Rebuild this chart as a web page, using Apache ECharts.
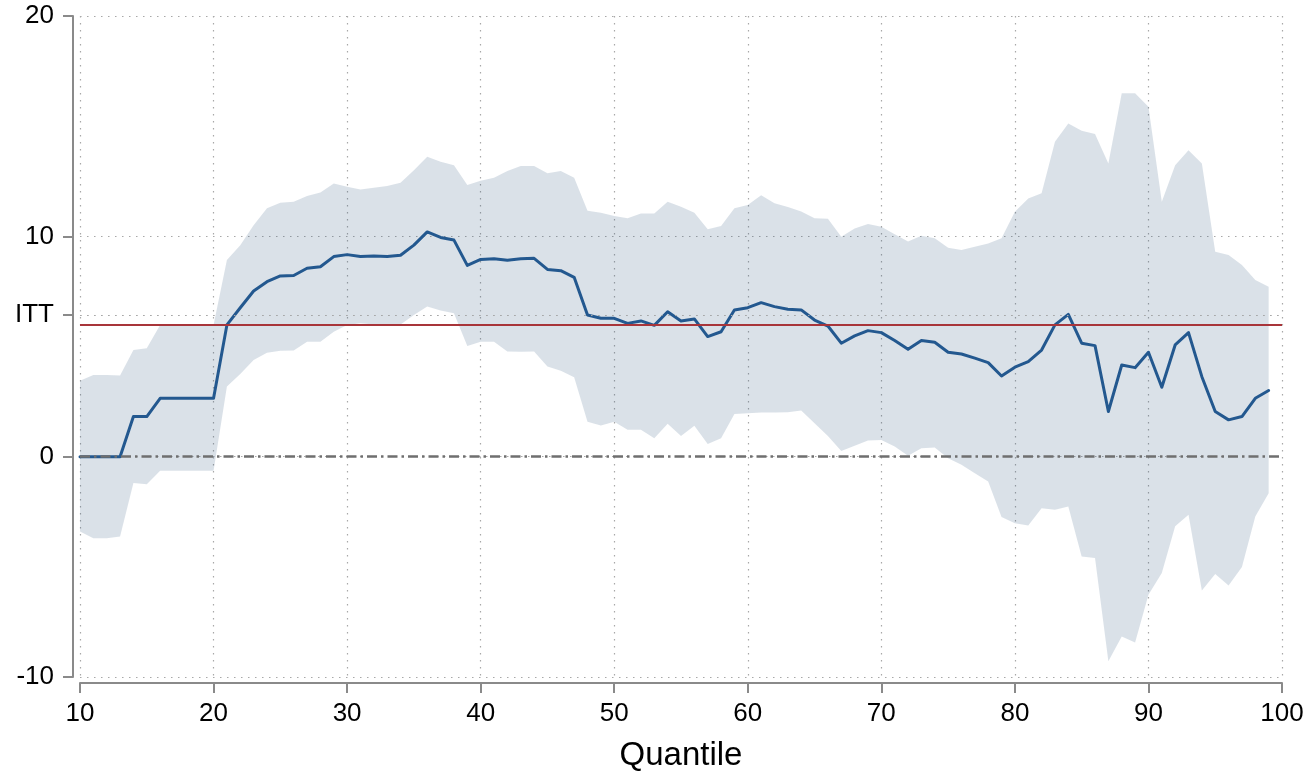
<!DOCTYPE html>
<html>
<head>
<meta charset="utf-8">
<script src="https://cdn.jsdelivr.net/npm/echarts@6/dist/echarts.min.js"></script>
<style>
  html, body { margin: 0; padding: 0; background: #fff; }
  #chart { width: 1308px; height: 774px; }
</style>
</head>
<body>
<div id="chart"></div>
<script>
const quantiles = [10,11,12,13,14,15,16,17,18,19,20,21,22,23,24,25,26,27,28,29,30,31,32,33,34,35,36,37,38,39,40,41,42,43,44,45,46,47,48,49,50,51,52,53,54,55,56,57,58,59,60,61,62,63,64,65,66,67,68,69,70,71,72,73,74,75,76,77,78,79,80,81,82,83,84,85,86,87,88,89,90,91,92,93,94,95,96,97,98,99];

const estimate = [0,0,0,0,1.82,1.82,2.65,2.65,2.65,2.65,2.65,5.98,6.76,7.52,7.94,8.2,8.22,8.55,8.62,9.08,9.17,9.08,9.11,9.08,9.14,9.6,10.2,9.95,9.83,8.68,8.95,8.98,8.91,8.98,9.0,8.5,8.44,8.14,6.43,6.28,6.28,6.05,6.16,5.96,6.58,6.16,6.25,5.45,5.67,6.66,6.76,6.99,6.81,6.69,6.66,6.2,5.93,5.15,5.48,5.72,5.63,5.27,4.87,5.27,5.19,4.74,4.66,4.47,4.27,3.66,4.06,4.31,4.84,5.98,6.46,5.15,5.04,2.05,4.16,4.04,4.74,3.15,5.07,5.63,3.63,2.05,1.67,1.82,2.65,3.0];

const upper = [3.45,3.71,3.71,3.68,4.84,4.92,5.98,5.98,5.98,5.98,5.98,8.93,9.6,10.5,11.27,11.52,11.57,11.83,11.99,12.4,12.25,12.13,12.2,12.28,12.43,13.0,13.61,13.38,13.23,12.33,12.52,12.66,12.97,13.19,13.19,12.86,12.96,12.66,11.16,11.07,10.92,10.82,11.04,11.04,11.57,11.34,11.07,10.32,10.47,11.27,11.42,11.87,11.5,11.33,11.13,10.82,10.8,9.98,10.36,10.56,10.44,10.1,9.76,10.03,9.91,9.48,9.38,9.53,9.68,9.91,11.12,11.72,11.95,14.29,15.12,14.79,14.64,13.31,16.49,16.49,15.88,11.57,13.23,13.91,13.31,9.3,9.15,8.7,8.02,7.71];

const lower = [-3.40,-3.70,-3.70,-3.62,-1.20,-1.25,-0.64,-0.64,-0.64,-0.64,-0.64,3.18,3.75,4.39,4.72,4.81,4.82,5.21,5.22,5.67,5.98,6.05,6.0,5.95,6.0,6.43,6.81,6.63,6.51,5.02,5.22,5.22,4.77,4.76,4.77,4.09,3.9,3.6,1.59,1.41,1.59,1.22,1.22,0.84,1.49,0.94,1.4,0.58,0.84,1.94,1.97,2.0,2.0,2.02,2.1,1.52,0.94,0.26,0.5,0.73,0.76,0.46,0.04,0.38,0.42,-0.07,-0.37,-0.75,-1.13,-2.74,-3.02,-3.12,-2.34,-2.41,-2.26,-4.53,-4.6,-9.29,-8.16,-8.43,-6.27,-5.28,-3.16,-2.64,-6.07,-5.32,-5.85,-5.01,-2.71,-1.66];

const ittValue = 6.0;       // red reference line
const ittTick = 6.43;       // position of the "ITT" tick label
const yTickValues = [-10, 0, ittTick, 10, 20];
const xTickLabels = [10,20,30,40,50,60,70,80,90,100];

const FONT = "'Liberation Sans', Arial, Helvetica, sans-serif";

const bandData = quantiles.map((q, i) => [q, lower[i], upper[i]]);
const estData = quantiles.map((q, i) => [q, estimate[i]]);

function renderBand(params, api) {
  if (params.dataIndex !== 0) return null;
  const top = [], bottom = [];
  for (let i = 0; i < bandData.length; i++) {
    top.push(api.coord([bandData[i][0], bandData[i][2]]));
    bottom.push(api.coord([bandData[i][0], bandData[i][1]]));
  }
  const pts = top.concat(bottom.reverse());
  return {
    type: 'polygon',
    shape: { points: pts },
    style: { fill: 'rgba(26,71,111,0.16)', stroke: null }
  };
}

const chart = echarts.init(document.getElementById('chart'), null, { renderer: 'canvas' });
chart.setOption({
  animation: false,
  backgroundColor: '#ffffff',
  grid: { left: 80, right: 26, top: 16, bottom: 97, containLabel: false, outerBoundsMode: 'none' },
  xAxis: {
    type: 'value', min: 10, max: 100, interval: 10,
    offset: 6,
    name: 'Quantile', nameLocation: 'middle', nameGap: 56,
    nameTextStyle: { fontFamily: FONT, fontSize: 33, color: '#000' },
    axisLine: { show: true, onZero: false, lineStyle: { color: '#8a8a8a', width: 2 } },
    axisTick: { show: true, length: 10, lineStyle: { color: '#8a8a8a', width: 2 } },
    axisLabel: { fontFamily: FONT, fontSize: 26, color: '#000', margin: 18,
      formatter: v => (xTickLabels.indexOf(v) >= 0 ? String(v) : '') },
    splitLine: { show: true, lineStyle: { color: '#a8a8a8', width: 1.2, type: [1.5, 5.5] } }
  },
  yAxis: {
    type: 'value', min: -10, max: 20, interval: 10,
    offset: 7,
    axisLine: { show: true, onZero: false, lineStyle: { color: '#8a8a8a', width: 2 } },
    axisTick: { show: true, length: 10, customValues: yTickValues, lineStyle: { color: '#8a8a8a', width: 2 } },
    axisLabel: { fontFamily: FONT, fontSize: 26, color: '#000', margin: 19,
      customValues: yTickValues,
      formatter: v => (Math.abs(v - ittTick) < 1e-6 ? 'ITT' : String(v)) },
    splitLine: { show: true, lineStyle: { color: '#a8a8a8', width: 1.2, type: [1.5, 5.5] } }
  },
  series: [
    {
      name: 'band', type: 'custom', data: bandData, renderItem: renderBand,
      encode: { x: 0, y: [1, 2] }, z: 1, silent: true, clip: true
    },
    {
      name: 'refs', type: 'line', data: [], z: 2, silent: true,
      markLine: {
        silent: true, symbol: ['none', 'none'], label: { show: false },
        data: [
          { yAxis: ittTick, lineStyle: { color: '#a8a8a8', width: 1.2, type: [1.5, 5.5] } },
          { yAxis: 0, lineStyle: { color: '#6f6f6f', width: 2.5, type: [10, 4, 2.5, 4] } },
          { yAxis: ittValue, lineStyle: { color: '#a8353a', width: 2, type: 'solid' } }
        ]
      }
    },
    {
      name: 'estimate', type: 'line', data: estData, symbol: 'none', z: 3,
      lineStyle: { color: '#23588f', width: 3, join: 'round', cap: 'round' }
    }
  ]
});
</script>
</body>
</html>
